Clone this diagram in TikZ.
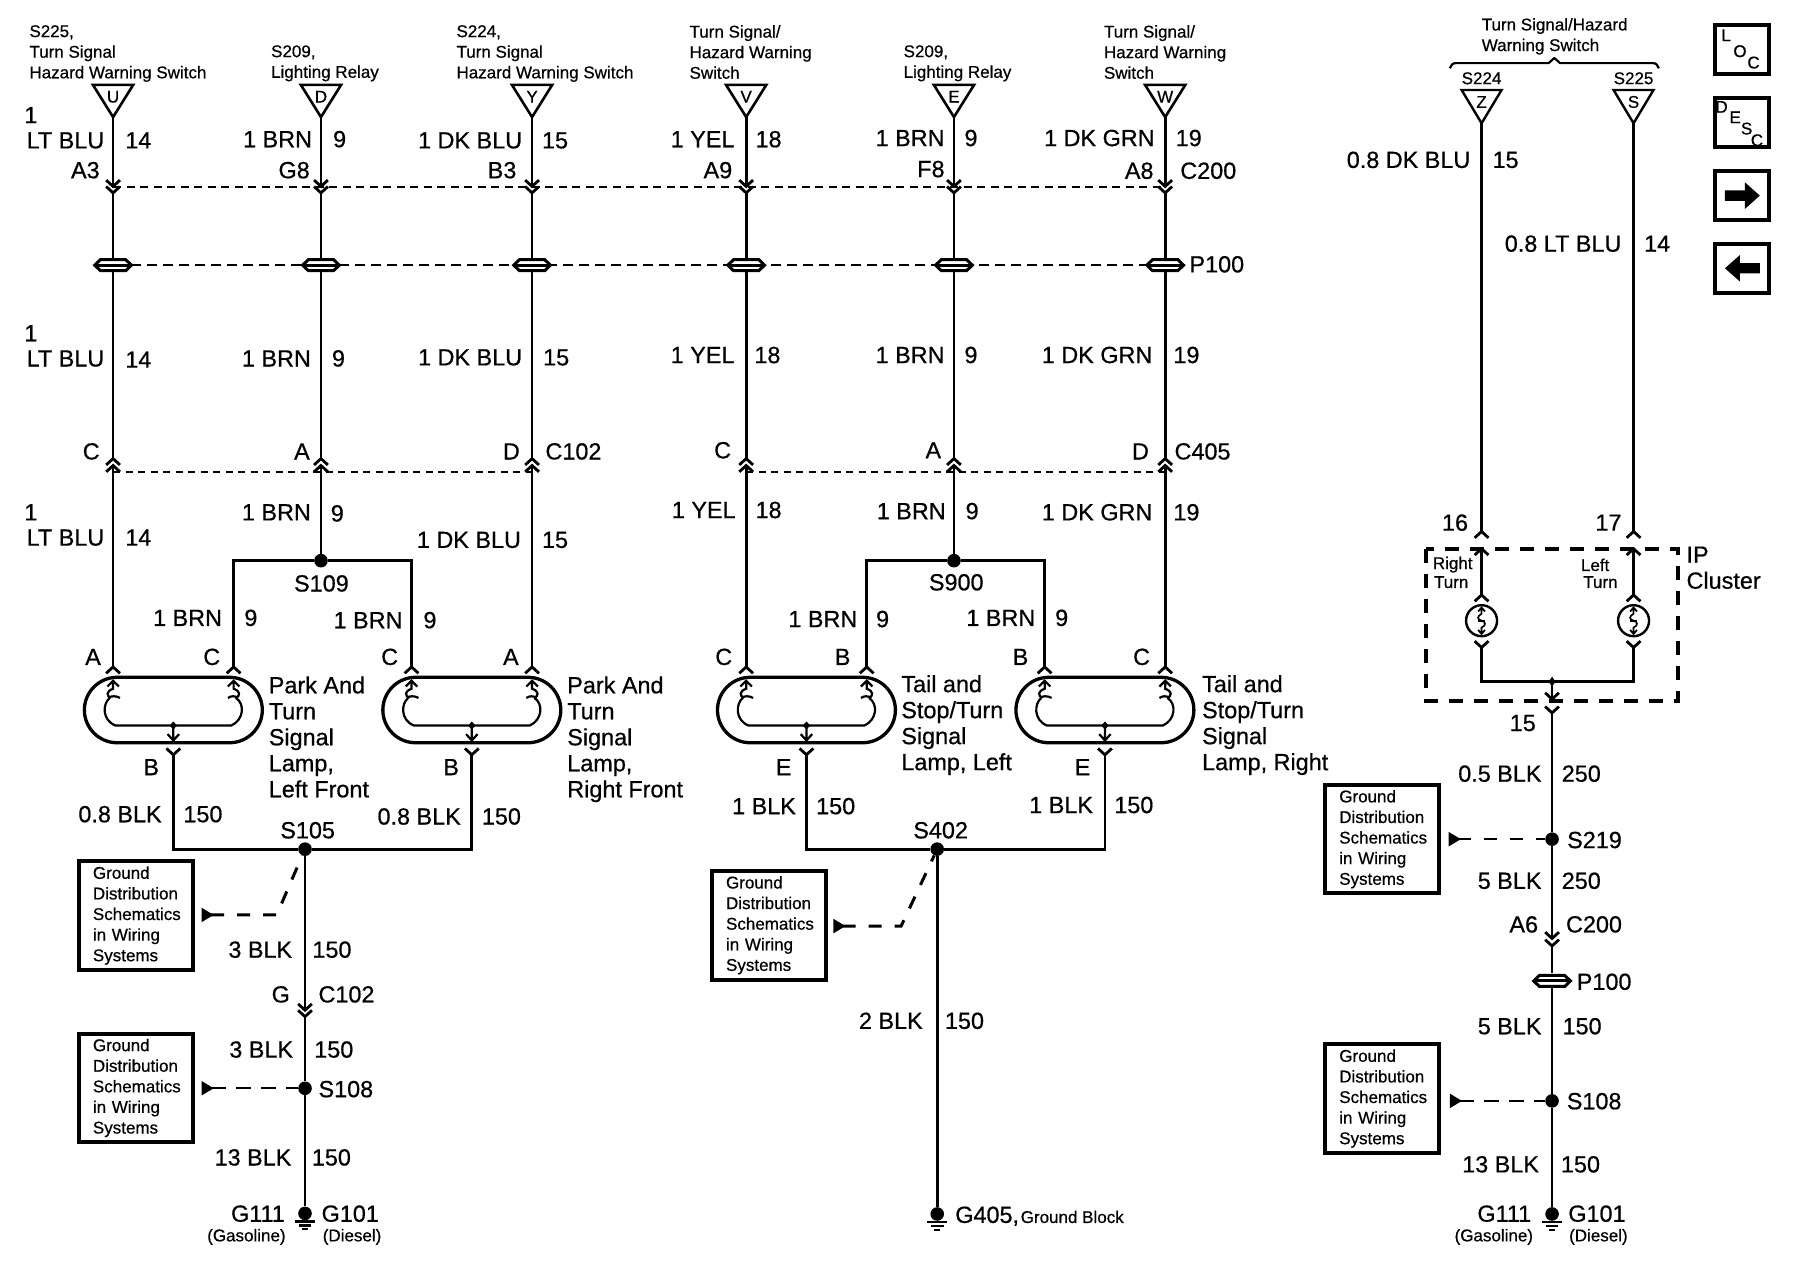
\documentclass[tikz,border=0pt]{standalone}
\usepackage{fontspec}
\setmainfont{Liberation Sans}[FakeBold=0.6]
\usetikzlibrary{calc}
\newcounter{tn}
\newcommand\tx[4]{\stepcounter{tn}\node[#1] (t\arabic{tn}) at (#2,#3) {#4};}
\newcommand\bE[3]{\tx{big,anchor=east}{#1}{#2}{#3}}
\newcommand\bW[3]{\tx{big,anchor=west}{#1}{#2}{#3}}
\newcommand\bC[3]{\tx{big,anchor=center}{#1}{#2}{#3}}
\newcommand\sE[3]{\tx{sml,anchor=east}{#1}{#2}{#3}}
\newcommand\sW[3]{\tx{sml,anchor=west}{#1}{#2}{#3}}
\newcommand\sC[3]{\tx{sml,anchor=center}{#1}{#2}{#3}}
\newcommand\sBlock[3]{\tx{smlblock}{#1}{#2-6.2}{#3}}
\newcommand\bBlock[3]{\tx{bigblock}{#1}{#2-8}{#3}}
\newcommand\lettersize{\fontsize{17}{20.6}\selectfont}
\tikzset{
  big/.style={font=\fontsize{23.4}{26}\selectfont,inner sep=0pt,text height=16.7pt,text depth=0pt},
  sml/.style={font=\lettersize,inner sep=0pt,text height=12.2pt,text depth=0pt},
  smlblock/.style={font=\lettersize,inner sep=0pt,anchor=north west,align=left},
  bigblock/.style={font=\fontsize{23.4}{26}\selectfont,inner sep=0pt,anchor=north west,align=left},
  wire/.style={line width=2.8pt,line join=miter},
  thinw/.style={line width=2.2pt},
  dotn/.style={circle,fill=black,draw=none,minimum size=13.6pt,inner sep=0pt},
  gbox/.style={draw,line width=4pt,anchor=north west,font=\lettersize,inner xsep=14pt,inner ysep=0pt,
    text width=86pt,align=left,minimum width=114pt,minimum height=108.5pt},
  icon/.style={draw,line width=4pt,anchor=north west,minimum width=54pt,minimum height=49pt,inner sep=0pt},
  dashA/.style={line width=2.5pt,dash pattern=on 8pt off 5.5pt},
  dashB/.style={line width=2pt,dash pattern=on 10pt off 6pt},
  dashC/.style={line width=2pt,dash pattern=on 7pt off 5.5pt},
  leadH/.style={line width=3pt,dash pattern=on 13pt off 13pt},
  leadT/.style={line width=2.2pt,dash pattern=on 15pt off 10pt},
  ipdash/.style={line width=4pt,dash pattern=on 14pt off 11pt},
  chevd/.pic={\draw[wire] (-6,-5.5) -- (0,0) -- (6,-5.5);},
  chevu/.pic={\draw[wire] (-6,5.5) -- (0,0) -- (6,5.5);},
  pconn/.pic={\draw[line width=3pt,fill=white] (-16,0) -- (-11,-4.8) -- (11,-4.8) -- (16,0) -- (11,4.8) -- (-11,4.8) -- cycle;
    \draw[line width=3pt] (-16,0) -- (16,0);},
  gnd/.pic={\draw[line width=2.2pt] (-8.7,7) -- (8.7,7) (-5.5,10.5) -- (5.5,10.5) (-2.6,13.8) -- (2.6,13.8);},
  trimark/.pic={\fill (0,-6.3) -- (10.5,0) -- (0,6.3) -- cycle;},
  lamp/.pic={
    \draw[line width=3.3pt] (3.5,0) -- (101.5,0) .. controls (117.2,0) and (130,12.8) .. (130,28.5)
      .. controls (130,44.2) and (117.2,57) .. (101.5,57) -- (3.5,57)
      .. controls (-12.2,57) and (-25,44.2) .. (-25,28.5) .. controls (-25,12.8) and (-12.2,0) .. (3.5,0) -- cycle;
    \draw[thinw] (-5,8) -- (0,3) -- (5,8) (0,3) -- (0,10) .. controls (-6,12) and (-6,16) .. (-2,18);
    \draw[thinw] (-4,18) .. controls (-2,16) and (3,16) .. (6,18);
    \draw[thinw] (-3,18) .. controls (-9,23) and (-10,37) .. (2,42) -- (103,42)
      .. controls (114,37) and (115,23) .. (107,18);
    \draw[thinw] (100,18) .. controls (103,16) and (106,16) .. (109,18);
    \draw[thinw] (100,8) -- (105,3) -- (110,8) (105,3) -- (105,10) .. controls (111,12) and (111,16) .. (107,18);
    \fill (52.5,38.5) -- (55.7,42) -- (52.5,45.5) -- (49.3,42) -- cycle;
    \draw[thinw] (52.5,42) -- (52.5,55) (47.5,49.5) -- (52.5,55) -- (57.5,49.5);
  },
  bulbin/.pic={
    \draw[line width=1.7pt] (-3,-8) -- (0,-11.5) -- (3,-8) (0,-11.5) -- (0,-6) .. controls (-4,-4) and (-4,-1) .. (0,0)
      .. controls (4,1) and (4,4) .. (0,6) -- (0,11.5) (-3,8) -- (0,11.5) -- (3,8);
    \draw[line width=1.7pt] (-3,0) -- (3,0);
  },
}
\begin{document}
\begin{tikzpicture}[x=1.147959pt,y=-1.147959pt]
\useasboundingbox (0,0) rectangle (1568,1115.02);

% ---- named splice dots
\node[dotn] (s109) at (279.6,488.4) {};
\node[dotn] (s900) at (831,488.4) {};
\node[dotn] (s105) at (265.7,739.7) {};
\node[dotn] (s402) at (816.4,739.7) {};
\node[dotn] (s108a) at (265.7,948) {};
\node[dotn] (g111a) at (265.7,1057) {};
\node[dotn] (g405) at (816.4,1057.5) {};
\node[dotn] (s219) at (1352,731) {};
\node[dotn] (s108b) at (1352,959) {};
\node[dotn] (g111b) at (1352,1057.5) {};

% ---- horizontal dashed connector lines
\coordinate (da) at (98.5,163); \coordinate (db) at (1015,163);
\draw[dashA] (da) -- (db);
\coordinate (pa) at (114,231); \coordinate (pb) at (1002,231);
\draw[dashB] (pa) -- (pb);
\coordinate (ca) at (98.5,411.5); \coordinate (cb) at (463.5,411.5);
\draw[dashC] (ca) -- (cb);
\coordinate (cc) at (650,411.5); \coordinate (cd) at (1015,411.5);
\draw[dashC] (cc) -- (cd);

% ---- the six vertical columns, top part
\foreach \n/\x/\l in {1/98.5/U,2/279.6/D,3/463.5/Y,4/650/V,5/831/E,6/1015/W}{
  \sC{\x}{84}{\l}
  \draw[line width=2.6pt,line join=miter] (\x-17.5,74) -- (\x+17.5,74) -- (\x,102) -- cycle;
  \coordinate (ap\n) at (\x,102);
  \coordinate (up\n) at (\x,162.4);
  \coordinate (lo\n) at (\x,168);
  \coordinate (pt\n) at (\x,225);
  \coordinate (pd\n) at (\x,237);
  \coordinate (uu\n) at (\x,399.5);
  \coordinate (ll\n) at (\x,405.5);
  \draw[wire] (ap\n) -- (up\n);
  \pic at (up\n) {chevd};
  \pic at (lo\n) {chevd};
  \draw[wire] (lo\n) -- (pt\n);
  \pic at (\x,231) {pconn};
  \draw[wire] (pd\n) -- (uu\n);
  \pic at (uu\n) {chevu};
  \pic at (ll\n) {chevu};
}
% ---- lamps
\foreach \n/\x in {1/98.5,2/358.5,3/650,4/910}{
  \pic at (\x,590) {lamp};
  \coordinate (la\n) at (\x,581);
  \coordinate (lc\n) at (\x+105,581);
  \coordinate (lb\n) at (\x+52.5,657.5);
  \pic at (la\n) {chevu};
  \pic at (lc\n) {chevu};
  \pic at (lb\n) {chevd};
}
% ---- wires between C102/C405 and lamps
\draw[wire] (ll1) -- (la1);
\draw[wire] (ll3) -- (lc2);
\draw[wire] (ll4) -- (la3);
\draw[wire] (ll6) -- (lc4);
\draw[wire] (ll2) -- (s109);
\draw[wire] (ll5) -- (s900);
\draw[wire] (s109) -| (lc1);
\draw[wire] (s109) -| (la2);
\draw[wire] (s900) -| (lc3);
\draw[wire] (s900) -| (la4);
\draw[wire] (lb1) |- (s105);
\draw[wire] (lb2) |- (s105);
\draw[wire] (lb3) |- (s402);
\draw[wire] (lb4) |- (s402);

% ---- column under S105
\coordinate (g1u) at (265.7,880);
\coordinate (g1l) at (265.7,885.6);
\draw[wire] (s105) -- (g1u);
\pic at (g1u) {chevd};
\pic at (g1l) {chevd};
\draw[wire] (g1l) -- (s108a);
\draw[wire] (s108a) -- (g111a);
\pic at (265.7,1057) {gnd};
% ---- column under S402
\draw[wire] (s402) -- (g405);
\pic at (816.4,1057.5) {gnd};

% ---- ground boxes and leaders
\node[gbox] (gb1) at (67,748.6) {Ground\\Distribution\\Schematics\\in Wiring\\Systems};
\node[gbox] (gb2) at (67,898.7) {Ground\\Distribution\\Schematics\\in Wiring\\Systems};
\node[gbox] (gb3) at (618.5,757) {Ground\\Distribution\\Schematics\\in Wiring\\Systems};
\node[gbox] (gb4) at (1152.7,682) {Ground\\Distribution\\Schematics\\in Wiring\\Systems};
\node[gbox] (gb5) at (1152.7,908) {Ground\\Distribution\\Schematics\\in Wiring\\Systems};
\pic at (175.6,797) {trimark};
\coordinate (l1s) at (184,797); \coordinate (l1b) at (241,797);
\draw[leadH] (l1s) -- (l1b) -- (s105);
\pic at (175.6,948) {trimark};
\coordinate (l2s) at (184,948);
\draw[leadT] (l2s) -- (s108a);
\pic at (726,806.7) {trimark};
\coordinate (l3s) at (734,806.7); \coordinate (l3b) at (785,806.7);
\draw[leadH] (l3s) -- (l3b) -- (s402);
\pic at (1262,731) {trimark};
\coordinate (l4s) at (1270,731);
\draw[leadH,line width=2.6pt] (l4s) -- (s219);
\pic at (1263,959) {trimark};
\coordinate (l5s) at (1271,959);
\draw[leadT] (l5s) -- (s108b);

% ---- right section
\draw[line width=2.2pt,line join=round] (1263,59.5) .. controls (1264,57) and (1265,55) .. (1268,55) -- (1349,55) -- (1354,50.5) -- (1359,55) -- (1440,55) .. controls (1443,55) and (1444,57) .. (1445,59.5);
\sBlock{1290.6}{21.8}{Turn Signal/Hazard\\Warning Switch}
\sC{1290.6}{68}{S224}
\sC{1423}{68}{S225}
\foreach \n/\x/\l in {7/1290.6/Z,8/1423/S}{
  \sC{\x}{88.6}{\l}
  \draw[line width=2.4pt,line join=miter] (\x-17.4,78.4) -- (\x+17.4,78.4) -- (\x,107.4) -- cycle;
  \coordinate (ap\n) at (\x,107.4);
  \coordinate (uu\n) at (\x,463);
  \coordinate (in\n) at (\x,478);
  \coordinate (st\n) at (\x,518.3);
  \coordinate (bo\n) at (\x,564);
  \draw[wire] (ap\n) -- (uu\n);
  \pic at (uu\n) {chevu};
  \pic at (in\n) {chevu};
  \draw[wire] (in\n) -- (st\n);
  \pic at (st\n) {chevu};
  \node[circle,draw,line width=2.4pt,minimum size=31pt,inner sep=0pt] (bulb\n) at (\x,540.7) {};
  \pic at (\x,540.7) {bulbin};
  \pic at (bo\n) {chevd};
}
\coordinate (jn) at (1352,593.8);
\coordinate (jd) at (1352,609);
\coordinate (ju) at (1352,621);
\draw[wire] (bo7) |- (jn);
\draw[wire] (bo8) |- (jn);
\fill (1352,589.5) -- (1355,593.8) -- (1352,598) -- (1349,593.8) -- cycle;
\draw[wire] (jn) -- (jd);
\pic at (jd) {chevd};
\pic at (ju) {chevd};
\draw[wire] (ju) -- (s219);
\coordinate (c2u) at (1352,817.5);
\coordinate (c2l) at (1352,824);
\draw[wire] (s219) -- (c2u);
\pic at (c2u) {chevd};
\pic at (c2l) {chevd};
\coordinate (p2t) at (1352,848);
\coordinate (p2b) at (1352,861);
\draw[wire] (c2l) -- (p2t);
\pic at (1352,854.5) {pconn};
\draw[wire] (p2b) -- (s108b);
\draw[wire] (s108b) -- (g111b);
\pic at (1352,1057.5) {gnd};
\coordinate (ipa) at (1242,478.3); \coordinate (ipb) at (1461.7,610.6);
\draw[ipdash] (ipa) rectangle (ipb);

% ---- icons
\node[icon] (loc) at (1492.4,19.7) {};
\node[icon] (desc) at (1492.4,83.3) {};
\node[icon] (nxt) at (1492.4,147) {};
\node[icon] (prv) at (1492.4,210.5) {};
\sC{1503.6}{30.5}{L}\sC{1515.7}{44.4}{O}\sC{1527.5}{54.3}{C}
\sC{1499.7}{92.9}{D}\sC{1511.5}{102}{E}\sC{1521.5}{111.8}{S}\sC{1530.5}{122}{C}
\fill (1502.6,165.9) -- (1520,165.9) -- (1520,158.8) -- (1533,170.4) -- (1520,182) -- (1520,174.9) -- (1502.6,174.9) -- cycle;
\fill (1533,229.2) -- (1515.7,229.2) -- (1515.7,222.1) -- (1502.6,233.7) -- (1515.7,245.3) -- (1515.7,238.2) -- (1533,238.2) -- cycle;

% ---- top labels
\sBlock{25.5}{28}{S225,\\Turn Signal\\Hazard Warning Switch}
\sBlock{236}{45.5}{S209,\\Lighting Relay}
\sBlock{397.5}{28}{S224,\\Turn Signal\\Hazard Warning Switch}
\sBlock{600.5}{28}{Turn Signal/\\Hazard Warning\\Switch}
\sBlock{787}{45.5}{S209,\\Lighting Relay}
\sBlock{961.5}{28}{Turn Signal/\\Hazard Warning\\Switch}

% ---- row 1
\bW{21}{100}{1}
\bE{91}{122}{LT BLU}\bW{109}{122}{14}
\bE{272}{121}{1 BRN}\bW{290}{121}{9}
\bE{455}{122}{1 DK BLU}\bW{472}{122}{15}
\bE{640}{121}{1 YEL}\bW{658}{121}{18}
\bE{823}{120}{1 BRN}\bW{840}{120}{9}
\bE{1006}{120}{1 DK GRN}\bW{1024}{120}{19}
\bE{87}{148}{A3}\bE{270}{148}{G8}\bE{450}{148}{B3}\bE{638}{148}{A9}\bE{823}{147}{F8}\bE{1005}{148.5}{A8}\bW{1028}{148.5}{C200}
\bW{1036}{230}{P100}
% ---- row 2
\bW{21}{290}{1}
\bE{91}{312}{LT BLU}\bW{109}{313}{14}
\bE{271}{312}{1 BRN}\bW{289}{312}{9}
\bE{455}{311}{1 DK BLU}\bW{473}{311}{15}
\bE{640}{309}{1 YEL}\bW{657}{309}{18}
\bE{823}{309}{1 BRN}\bW{840}{309}{9}
\bE{1004}{309}{1 DK GRN}\bW{1022}{309}{19}
% ---- connector row
\bE{87}{393}{C}\bE{270}{393}{A}\bE{453}{393}{D}\bW{475}{393}{C102}
\bE{637}{392}{C}\bE{820}{392}{A}\bE{1001}{393}{D}\bW{1023}{393}{C405}
% ---- row 3
\bW{21}{446}{1}
\bE{91}{468}{LT BLU}\bW{109}{468}{14}
\bE{271}{446}{1 BRN}\bW{288}{447}{9}
\bE{454}{470}{1 DK BLU}\bW{472}{470}{15}
\bE{641}{444}{1 YEL}\bW{658}{444}{18}
\bE{824}{445}{1 BRN}\bW{841}{445}{9}
\bE{1004}{446}{1 DK GRN}\bW{1022}{446}{19}
% ---- splice labels
\bC{280}{508}{S109}\bC{833}{507}{S900}
\bE{193.6}{538}{1 BRN}\bW{212.7}{538}{9}
\bE{350.8}{540}{1 BRN}\bW{368.7}{540}{9}
\bE{747}{539}{1 BRN}\bW{763}{539}{9}
\bE{902}{538}{1 BRN}\bW{919}{538}{9}
% ---- lamp labels
\bE{88}{572}{A}\bE{192}{572}{C}\bE{347}{572}{C}\bE{452}{572}{A}
\bE{638}{572}{C}\bE{741}{572}{B}\bE{896}{572}{B}\bE{1002}{572}{C}
\bBlock{234}{597}{Park And\\Turn\\Signal\\Lamp,\\Left Front}
\bBlock{494}{597}{Park And\\Turn\\Signal\\Lamp,\\Right Front}
\bBlock{785}{596}{Tail and\\Stop/Turn\\Signal\\Lamp, Left}
\bBlock{1047}{596}{Tail and\\Stop/Turn\\Signal\\Lamp, Right}
\bE{138.7}{668}{B}\bE{400}{668}{B}\bE{689.6}{668}{E}\bE{950}{668}{E}
\bE{141}{709}{0.8 BLK}\bW{159.6}{709}{150}
\bE{401.6}{711}{0.8 BLK}\bW{419.6}{711}{150}
\bE{693.5}{702}{1 BLK}\bW{710.8}{702}{150}
\bE{952.3}{701}{1 BLK}\bW{970.5}{701}{150}
\bC{268}{723}{S105}\bC{819.4}{723}{S402}
% ---- under S105
\bE{254.7}{827}{3 BLK}\bW{272}{827}{150}
\bE{252.7}{866}{G}\bW{277.3}{866}{C102}
\bE{255.5}{914}{3 BLK}\bW{273.6}{914}{150}
\bW{277.3}{948.5}{S108}
\bE{254}{1008}{13 BLK}\bW{271.5}{1008}{150}
\bE{248.3}{1057}{G111}\bW{280}{1057}{G101}
\sE{249}{1076}{(Gasoline)}\sW{281}{1076}{(Diesel)}
% ---- under S402
\bE{804}{889}{2 BLK}\bW{823}{889}{150}
\bW{832}{1058}{G405,}\sW{889}{1060}{Ground Block}
% ---- right column labels
\bE{1281}{139}{0.8 DK BLU}\bW{1300}{139}{15}
\bE{1412.6}{212}{0.8 LT BLU}\bW{1432}{212}{14}
\bE{1279}{455}{16}\bE{1412.6}{455}{17}
\sBlock{1248}{491}{Right}\sBlock{1249}{508}{Turn}
\sBlock{1377}{492.7}{Left}\sBlock{1379}{508}{Turn}
\bBlock{1469}{484}{IP\\Cluster}
\bE{1338}{629.5}{15}
\bE{1343}{673.7}{0.5 BLK}\bW{1360.3}{673.7}{250}
\bW{1365}{731.5}{S219}
\bE{1343}{767}{5 BLK}\bW{1360.3}{767}{250}
\bE{1340}{805}{A6}\bW{1364}{805}{C200}
\bW{1373.4}{855}{P100}
\bE{1343}{893.7}{5 BLK}\bW{1361}{893.7}{150}
\bW{1364.7}{959}{S108}
\bE{1340.8}{1014}{13 BLK}\bW{1359.6}{1014}{150}
\bE{1334}{1057}{G111}\bW{1366}{1057}{G101}
\sE{1335.6}{1076}{(Gasoline)}\sW{1366.7}{1076}{(Diesel)}
\end{tikzpicture}
\end{document}
